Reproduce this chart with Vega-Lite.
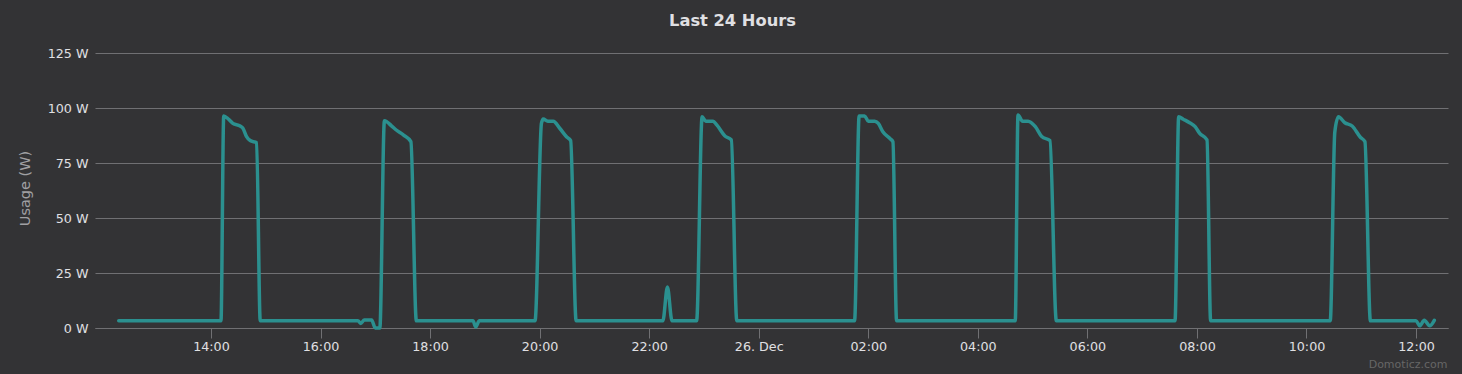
{
  "$schema": "https://vega.github.io/schema/vega-lite/v6.json",
  "width": 1353,
  "height": 275,
  "autosize": "none",
  "padding": {"left": 95, "top": 53, "right": 14, "bottom": 46},
  "background": "#333335",
  "config": {
    "view": {"stroke": null},
    "font": "DejaVu Sans"
  },
  "title": {
    "text": "Last 24 Hours",
    "font": "DejaVu Sans",
    "fontSize": 16.3,
    "fontWeight": "bold",
    "color": "#E0E0E3",
    "anchor": "middle",
    "frame": "bounds",
    "baseline": "alphabetic",
    "offset": 5
  },
  "data": {
    "values": [
      {"t": "2020-12-25T12:19", "w": 3.3},
      {"t": "2020-12-25T14:11", "w": 3.3},
      {"t": "2020-12-25T14:14", "w": 96.4},
      {"t": "2020-12-25T14:19", "w": 95},
      {"t": "2020-12-25T14:24", "w": 93},
      {"t": "2020-12-25T14:32", "w": 91.8},
      {"t": "2020-12-25T14:35", "w": 90.8},
      {"t": "2020-12-25T14:39", "w": 87},
      {"t": "2020-12-25T14:43", "w": 85.2},
      {"t": "2020-12-25T14:50", "w": 84.2},
      {"t": "2020-12-25T14:54", "w": 3.3},
      {"t": "2020-12-25T16:41", "w": 3.3},
      {"t": "2020-12-25T16:44", "w": 2.1},
      {"t": "2020-12-25T16:48", "w": 3.6},
      {"t": "2020-12-25T16:56", "w": 3.6},
      {"t": "2020-12-25T17:00", "w": 0},
      {"t": "2020-12-25T17:05", "w": 0},
      {"t": "2020-12-25T17:10", "w": 94.2},
      {"t": "2020-12-25T17:18", "w": 91.8},
      {"t": "2020-12-25T17:23", "w": 90},
      {"t": "2020-12-25T17:31", "w": 87.7},
      {"t": "2020-12-25T17:39", "w": 84.7},
      {"t": "2020-12-25T17:45", "w": 3.3},
      {"t": "2020-12-25T18:47", "w": 3.3},
      {"t": "2020-12-25T18:50", "w": 0.5},
      {"t": "2020-12-25T18:54", "w": 3.3},
      {"t": "2020-12-25T19:55", "w": 3.3},
      {"t": "2020-12-25T20:02", "w": 93},
      {"t": "2020-12-25T20:04", "w": 95},
      {"t": "2020-12-25T20:09", "w": 94},
      {"t": "2020-12-25T20:15", "w": 94},
      {"t": "2020-12-25T20:22", "w": 90.8},
      {"t": "2020-12-25T20:30", "w": 86.7},
      {"t": "2020-12-25T20:34", "w": 85.2},
      {"t": "2020-12-25T20:40", "w": 3.3},
      {"t": "2020-12-25T22:15", "w": 3.3},
      {"t": "2020-12-25T22:20", "w": 18.6},
      {"t": "2020-12-25T22:25", "w": 3.3},
      {"t": "2020-12-25T22:52", "w": 3.3},
      {"t": "2020-12-25T22:58", "w": 96},
      {"t": "2020-12-25T23:02", "w": 94},
      {"t": "2020-12-25T23:10", "w": 94},
      {"t": "2020-12-25T23:14", "w": 92.3},
      {"t": "2020-12-25T23:23", "w": 87.3},
      {"t": "2020-12-25T23:30", "w": 85.5},
      {"t": "2020-12-25T23:36", "w": 3.3},
      {"t": "2020-12-26T01:45", "w": 3.3},
      {"t": "2020-12-26T01:50", "w": 96.4},
      {"t": "2020-12-26T01:56", "w": 96.4},
      {"t": "2020-12-26T02:00", "w": 94},
      {"t": "2020-12-26T02:07", "w": 94},
      {"t": "2020-12-26T02:11", "w": 93},
      {"t": "2020-12-26T02:16", "w": 89.2},
      {"t": "2020-12-26T02:24", "w": 86},
      {"t": "2020-12-26T02:27", "w": 84.7},
      {"t": "2020-12-26T02:31", "w": 3.3},
      {"t": "2020-12-26T04:41", "w": 3.3},
      {"t": "2020-12-26T04:44", "w": 96.8},
      {"t": "2020-12-26T04:49", "w": 94},
      {"t": "2020-12-26T04:55", "w": 94},
      {"t": "2020-12-26T05:03", "w": 91.5},
      {"t": "2020-12-26T05:10", "w": 87},
      {"t": "2020-12-26T05:19", "w": 85.2},
      {"t": "2020-12-26T05:26", "w": 3.3},
      {"t": "2020-12-26T07:36", "w": 3.3},
      {"t": "2020-12-26T07:40", "w": 96},
      {"t": "2020-12-26T07:45", "w": 94.9},
      {"t": "2020-12-26T07:52", "w": 93.3},
      {"t": "2020-12-26T07:58", "w": 91.5},
      {"t": "2020-12-26T08:03", "w": 88.5},
      {"t": "2020-12-26T08:11", "w": 85.5},
      {"t": "2020-12-26T08:15", "w": 3.3},
      {"t": "2020-12-26T10:26", "w": 3.3},
      {"t": "2020-12-26T10:31", "w": 89},
      {"t": "2020-12-26T10:35", "w": 96},
      {"t": "2020-12-26T10:42", "w": 93.3},
      {"t": "2020-12-26T10:50", "w": 91.8},
      {"t": "2020-12-26T10:59", "w": 86.7},
      {"t": "2020-12-26T11:04", "w": 84.7},
      {"t": "2020-12-26T11:10", "w": 3.3},
      {"t": "2020-12-26T12:00", "w": 3.3},
      {"t": "2020-12-26T12:04", "w": 1},
      {"t": "2020-12-26T12:09", "w": 3.5},
      {"t": "2020-12-26T12:15", "w": 1},
      {"t": "2020-12-26T12:20", "w": 3.5}
    ]
  },
  "mark": {"type": "line", "color": "#2b908f", "strokeWidth": 3.5, "interpolate": "monotone", "strokeJoin": "round", "strokeCap": "round"},
  "encoding": {
    "x": {
      "field": "t",
      "type": "temporal",
      "scale": {
        "domain": [
          {"year": 2020, "month": 12, "date": 25, "hours": 11, "minutes": 53},
          {"year": 2020, "month": 12, "date": 26, "hours": 12, "minutes": 35}
        ]
      },
      "axis": {
        "values": [
          {"year": 2020, "month": 12, "date": 25, "hours": 14},
          {"year": 2020, "month": 12, "date": 25, "hours": 16},
          {"year": 2020, "month": 12, "date": 25, "hours": 18},
          {"year": 2020, "month": 12, "date": 25, "hours": 20},
          {"year": 2020, "month": 12, "date": 25, "hours": 22},
          {"year": 2020, "month": 12, "date": 26, "hours": 0},
          {"year": 2020, "month": 12, "date": 26, "hours": 2},
          {"year": 2020, "month": 12, "date": 26, "hours": 4},
          {"year": 2020, "month": 12, "date": 26, "hours": 6},
          {"year": 2020, "month": 12, "date": 26, "hours": 8},
          {"year": 2020, "month": 12, "date": 26, "hours": 10},
          {"year": 2020, "month": 12, "date": 26, "hours": 12}
        ],
        "labelExpr": "hours(datum.value) == 0 ? timeFormat(datum.value, '%d. %b') : timeFormat(datum.value, '%H:%M')",
        "grid": false,
        "domain": true,
        "domainColor": "#707073",
        "domainWidth": 1,
        "ticks": true,
        "tickColor": "#707073",
        "tickSize": 10,
        "tickWidth": 1,
        "labelColor": "#E0E0E3",
        "labelFont": "DejaVu Sans",
        "labelFontSize": 12.7,
        "labelPadding": 2,
        "labelFlush": false,
        "labelOverlap": false,
        "title": "Domoticz.com",
        "titleColor": "#666666",
        "titleFont": "DejaVu Sans",
        "titleFontSize": 11,
        "titleFontWeight": "normal",
        "titleAlign": "right",
        "titleBaseline": "middle",
        "titleAnchor": null,
        "titleX": 1352,
        "titleY": 36
      }
    },
    "y": {
      "field": "w",
      "type": "quantitative",
      "scale": {"domain": [0, 125], "nice": false},
      "axis": {
        "values": [0, 25, 50, 75, 100, 125],
        "labelExpr": "datum.value + ' W'",
        "grid": true,
        "gridColor": "#707073",
        "gridWidth": 1,
        "domain": false,
        "ticks": false,
        "labelColor": "#E0E0E3",
        "labelFont": "DejaVu Sans",
        "labelFontSize": 12.7,
        "labelPadding": 7,
        "labelBaseline": "middle",
        "title": "Usage (W)",
        "titleColor": "#A0A0A3",
        "titleFont": "DejaVu Sans",
        "titleFontSize": 14.5,
        "titleFontWeight": "normal",
        "titleAngle": -90,
        "titleAlign": "center",
        "titleBaseline": "middle",
        "titleX": -70,
        "titleY": 135
      }
    }
  }
}
